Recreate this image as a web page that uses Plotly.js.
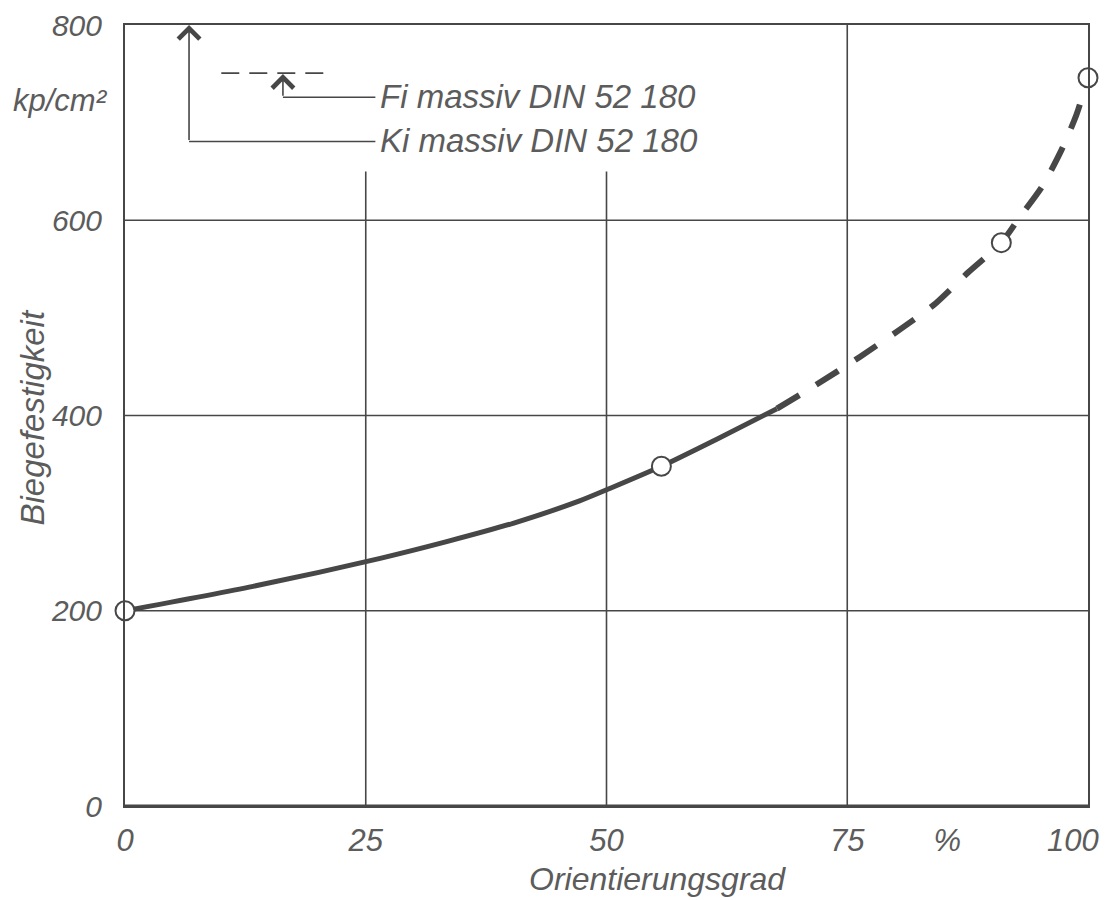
<!DOCTYPE html>
<html>
<head>
<meta charset="utf-8">
<script src="https://cdn.plot.ly/plotly-3.0.1.min.js"></script>
<style>
  html, body { margin: 0; padding: 0; background: #ffffff; }
  #chart { width: 1106px; height: 900px; }
</style>
</head>
<body>
<div id="chart"></div>
<script>
// ---- Data ----
const xSolid = [0, 13.3, 26.5, 33.4, 40.3, 47.2, 50.4, 55.7, 61.3, 67.7];
const ySolid = [200, 225, 253.7, 270.8, 289.6, 312.5, 325.5, 348, 375, 407];

const xDashed = [67.7, 71.7, 76.3, 80.6, 84.2, 87.6, 91, 92.9, 95.2, 97.1, 98.8, 100];
const yDashed = [407, 431, 460, 489, 515, 547, 577, 603, 634, 669, 708, 746];

const xPoints = [0, 55.7, 91, 100];
const yPoints = [200, 348, 577, 746];

// The last x label ("100") sits at the page edge, so it is drawn as an annotation anchored right
const xTickVals = [0, 25, 50, 75, 85.4];
const xTickText = ['0', '25', '50', '75', '%'];
const xLastTick = { value: 100, text: '100' };
const yTickVals = [0, 200, 400, 600, 800];
const yTickText = ['0', '200', '400', '600', '800'];

const hGrid = [200, 400, 600];
const vGridX = [25, 50, 75];
const vGridTop = [650, 650, 800];

const refLevels = { ki: 800, fi: 750.7 };
const refLabels = ['Fi massiv DIN 52 180', 'Ki massiv DIN 52 180'];
const xTitle = 'Orientierungsgrad';
const yTitle = 'Biegefestigkeit';
const yUnit = 'kp/cm²';

// ---- Styling ----
const ink = '#474747';
const textCol = '#5c5c5c';
const fam = 'Liberation Sans, Arial, sans-serif';

const traces = [
  {
    x: xSolid, y: ySolid, mode: 'lines', type: 'scatter',
    line: { color: ink, width: 5, shape: 'spline', smoothing: 0.7 },
    hoverinfo: 'skip', showlegend: false, cliponaxis: false
  },
  {
    x: xDashed, y: yDashed, mode: 'lines', type: 'scatter',
    line: { color: ink, width: 6, shape: 'spline', smoothing: 0.7, dash: '26px,20px' },
    hoverinfo: 'skip', showlegend: false, cliponaxis: false
  },
  {
    x: xPoints, y: yPoints, mode: 'markers', type: 'scatter',
    marker: { symbol: 'circle', size: 19, color: '#ffffff', line: { color: ink, width: 2 } },
    hoverinfo: 'skip', showlegend: false, cliponaxis: false
  }
];

const shapes = [];
hGrid.forEach(v => shapes.push({
  type: 'line', xref: 'x', yref: 'y', x0: 0, x1: 100, y0: v, y1: v,
  line: { color: ink, width: 1.6 }, layer: 'below'
}));
vGridX.forEach((v, i) => shapes.push({
  type: 'line', xref: 'x', yref: 'y', x0: v, x1: v, y0: 0, y1: vGridTop[i],
  line: { color: ink, width: 1.6 }, layer: 'below'
}));
// Reference markers (top-left)
shapes.push({ type: 'line', xref: 'x', yref: 'y', x0: 6.65, x1: 26, y0: 680.6, y1: 680.6,
  line: { color: ink, width: 1.6 } });
shapes.push({ type: 'line', xref: 'x', yref: 'y', x0: 16.4, x1: 26, y0: 726, y1: 726,
  line: { color: ink, width: 1.6 } });
shapes.push({ type: 'line', xref: 'x', yref: 'y', x0: 10.0, x1: 21.3, y0: refLevels.fi, y1: refLevels.fi,
  line: { color: ink, width: 1.6, dash: '18px,10px' } });
// Thicker bottom axis
shapes.push({ type: 'line', xref: 'x', yref: 'y', x0: 0, x1: 100, y0: 0, y1: 0,
  line: { color: ink, width: 3 } });

const annotations = [
  { x: 6.65, y: refLevels.ki, ax: 6.65, ay: 680.6, axref: 'x', ayref: 'y', xref: 'x', yref: 'y',
    text: '', showarrow: true, arrowhead: 4, arrowsize: 2.6, arrowwidth: 1.6, arrowcolor: ink, standoff: 0 },
  { x: 16.4, y: refLevels.fi - 1, ax: 16.4, ay: 726, axref: 'x', ayref: 'y', xref: 'x', yref: 'y',
    text: '', showarrow: true, arrowhead: 4, arrowsize: 2.6, arrowwidth: 1.6, arrowcolor: ink, standoff: 0 },
  { x: 26.3, y: 727, xref: 'x', yref: 'y', xanchor: 'left', yanchor: 'middle', showarrow: false,
    text: refLabels[0], font: { family: fam, size: 33, color: textCol, style: 'italic' } },
  { x: 26.3, y: 682, xref: 'x', yref: 'y', xanchor: 'left', yanchor: 'middle', showarrow: false,
    text: refLabels[1], font: { family: fam, size: 33, color: textCol, style: 'italic' } },
  { x: -0.0156, y: 723, xref: 'paper', yref: 'y', xanchor: 'right', yanchor: 'middle', showarrow: false,
    text: yUnit, font: { family: fam, size: 31, color: textCol, style: 'italic' } },
  { x: 55.3, y: -0.094, xref: 'x', yref: 'paper', xanchor: 'center', yanchor: 'middle', showarrow: false,
    text: xTitle, font: { family: fam, size: 32, color: textCol, style: 'italic' } },
  { x: -0.0965, y: 398, xref: 'paper', yref: 'y', xanchor: 'center', yanchor: 'middle', showarrow: false,
    textangle: -90,
    text: yTitle, font: { family: fam, size: 33, color: textCol, style: 'italic' } },
  { x: xLastTick.value, y: 0, xref: 'x', yref: 'y', xanchor: 'right', yanchor: 'middle', showarrow: false,
    xshift: 13, yshift: -34,
    text: xLastTick.text, font: { family: fam, size: 31, color: textCol, style: 'italic' } }
];

const layout = {
  width: 1106, height: 900,
  margin: { l: 125, r: 18, t: 25, b: 94 },
  paper_bgcolor: '#ffffff', plot_bgcolor: '#ffffff',
  showlegend: false,
  xaxis: {
    range: [0, 100], showgrid: false, zeroline: false,
    showline: true, mirror: true, linecolor: ink, linewidth: 2,
    ticks: '', tickmode: 'array', tickvals: xTickVals, ticktext: xTickText,
    ticklabelstandoff: 6, ticklabeloverflow: 'allow',
    tickfont: { family: fam, size: 31, color: textCol, style: 'italic' }
  },
  yaxis: {
    range: [0, 800], showgrid: false, zeroline: false,
    showline: true, mirror: true, linecolor: ink, linewidth: 2,
    ticks: '', tickmode: 'array', tickvals: yTickVals, ticktext: yTickText,
    ticklabelstandoff: 15, ticklabeloverflow: 'allow',
    tickfont: { family: fam, size: 30, color: textCol, style: 'italic' }
  },
  shapes: shapes,
  annotations: annotations
};

Plotly.newPlot('chart', traces, layout, { displayModeBar: false, staticPlot: true });
</script>
</body>
</html>
